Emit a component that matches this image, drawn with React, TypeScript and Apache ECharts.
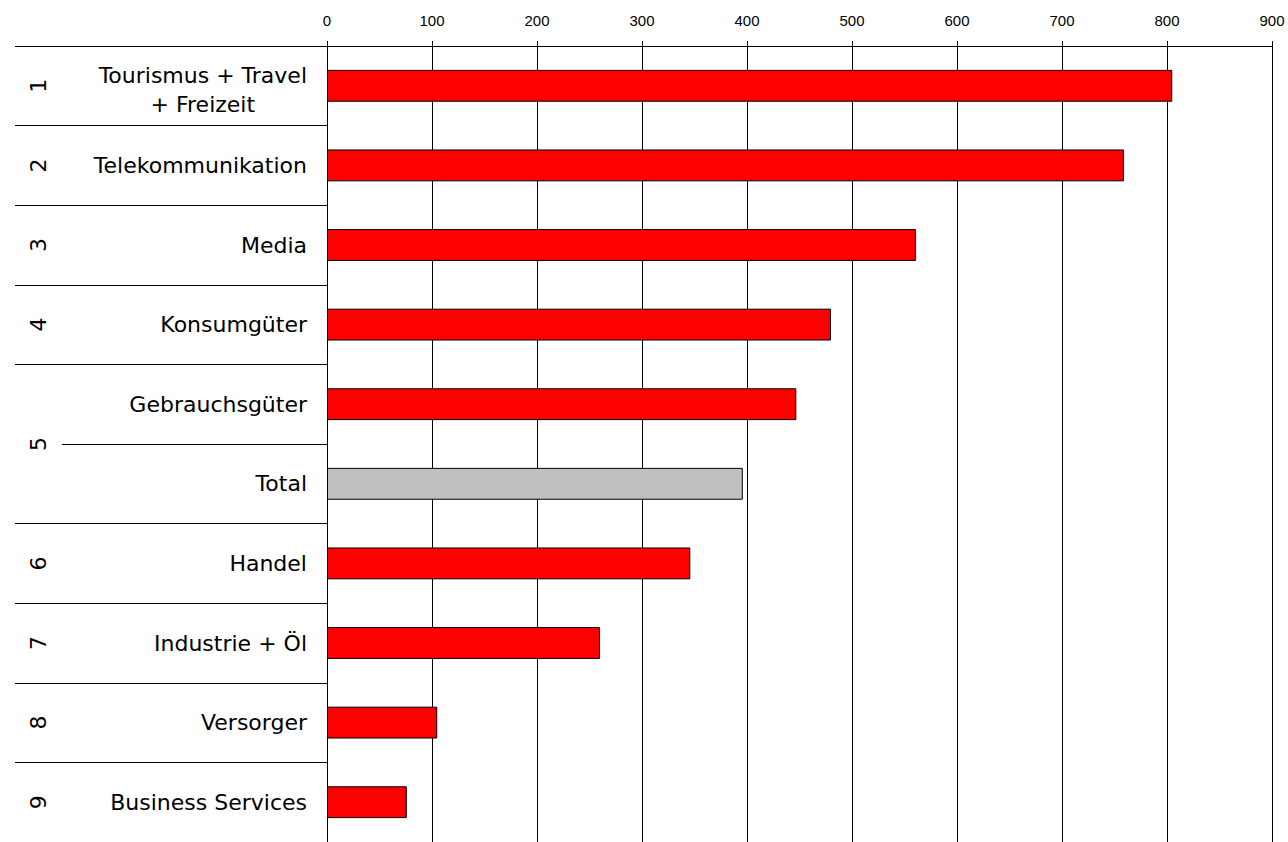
import React, { useEffect, useRef } from "react";
import * as echarts from "echarts";

const categories: string[] = [
  "Tourismus + Travel\n+ Freizeit",
  "Telekommunikation",
  "Media",
  "Konsumgüter",
  "Gebrauchsgüter",
  "Total",
  "Handel",
  "Industrie + Öl",
  "Versorger",
  "Business Services",
];
const values: number[] = [805, 759, 561, 480, 447, 396, 346, 260, 105, 76];
// group number for each category row
const groupOfRow: string[] = ["1", "2", "3", "4", "5", "5", "6", "7", "8", "9"];
const xTicks: number[] = [0, 100, 200, 300, 400, 500, 600, 700, 800, 900];

const LABEL_FONT = "DejaVu Sans";
const LABEL_SIZE = 22;

function measure(text: string): number {
  const c = document.createElement("canvas");
  const ctx = c.getContext("2d");
  if (!ctx) return text.length * 12;
  ctx.font = `${LABEL_SIZE}px "${LABEL_FONT}"`;
  return ctx.measureText(text).width;
}

export default function App() {
  const ref = useRef<HTMLDivElement>(null);
  useEffect(() => {
    if (!ref.current) return;
    const chart = echarts.init(ref.current, null, { renderer: "svg" });

    // group boundaries & centers (in row units)
    const groups: { name: string; start: number; end: number }[] = [];
    groupOfRow.forEach((g, i) => {
      const last = groups[groups.length - 1];
      if (last && last.name === g) last.end = i + 1;
      else groups.push({ name: g, start: i, end: i + 1 });
    });
    const outerBounds: number[] = [];
    groups.forEach((g) => outerBounds.push(g.start));
    outerBounds.push(groups[groups.length - 1].end);
    const innerBounds: number[] = [];
    for (let i = 1; i < groupOfRow.length; i++) {
      if (groupOfRow[i] === groupOfRow[i - 1]) innerBounds.push(i);
    }
    const centers = groups.map((g) => (g.start + g.end) / 2);
    const centerName: Record<string, string> = {};
    groups.forEach((g, i) => (centerName[String(centers[i])] = g.name));

    const multi = categories.find((c) => c.includes("\n")) || "";
    const multiW = Math.max(...multi.split("\n").map(measure));

    const n = categories.length;
    const yBase = {
      type: "value" as const,
      min: 0,
      max: n,
      inverse: true,
      position: "left" as const,
      offset: 0,
      axisLine: { show: false },
      splitLine: { show: false },
    };

    const richBase = {
      width: multiW,
      align: "center",
      fontSize: LABEL_SIZE,
      fontFamily: LABEL_FONT,
      color: "#000",
      lineHeight: 27,
    };

    chart.setOption({
      animation: false,
      backgroundColor: "#fff",
      grid: { left: 327, width: 945, top: 46, height: 800, containLabel: false },
      xAxis: {
        type: "value",
        position: "top",
        min: 0,
        max: 900,
        interval: 100,
        axisLine: { show: true, lineStyle: { color: "#000", width: 1 } },
        axisTick: { show: true, length: 5, lineStyle: { color: "#000" } },
        splitLine: { show: true, lineStyle: { color: "#000", width: 1 } },
        axisLabel: {
          color: "#000",
          fontSize: 15,
          fontFamily: "Liberation Sans",
          margin: 18,
          formatter: (v: number) => (xTicks.includes(v) ? String(v) : ""),
        },
      },
      yAxis: [
        {
          type: "category",
          data: categories,
          inverse: true,
          position: "left",
          axisLine: { show: true, lineStyle: { color: "#000", width: 1 } },
          axisTick: { show: false },
          splitLine: { show: false },
          axisLabel: {
            color: "#000",
            fontSize: LABEL_SIZE,
            fontFamily: LABEL_FONT,
            margin: 20,
            lineHeight: 27,
            formatter: (v: string) =>
              v.includes("\n")
                ? v
                    .split("\n")
                    .map((l, i) => (i === 0 ? `{c1|${l}}` : `{c|${l}}`))
                    .join("\n")
                : v,
            rich: {
              c1: { ...richBase, padding: [6, 0, 0, 0] },
              c: { ...richBase, padding: [10, 0, 0, 0] },
            },
          },
        },
        {
          ...yBase,
          axisTick: {
            show: true,
            length: 312,
            customValues: outerBounds,
            lineStyle: { color: "#000", width: 1 },
          },
          axisLabel: {
            show: true,
            customValues: centers,
            rotate: 90,
            margin: 278,
            color: "#000",
            fontSize: LABEL_SIZE,
            fontFamily: LABEL_FONT,
            formatter: (v: number) => centerName[String(v)] || "",
          },
        },
        {
          ...yBase,
          axisTick: {
            show: true,
            length: 265,
            customValues: innerBounds,
            lineStyle: { color: "#000", width: 1 },
          },
          axisLabel: { show: false },
        },
      ],
      series: [
        {
          type: "bar",
          yAxisIndex: 0,
          barWidth: "40%",
          data: values.map((v, i) => ({
            value: v,
            itemStyle: {
              color: categories[i] === "Total" ? "#C0C0C0" : "#FF0000",
              borderColor: "#000",
              borderWidth: 1,
            },
          })),
        },
      ],
    });
    return () => chart.dispose();
  }, []);
  return (
    <div
      ref={ref}
      style={{ position: "fixed", left: 0, top: 0, width: 1288, height: 842, background: "#fff" }}
    />
  );
}
